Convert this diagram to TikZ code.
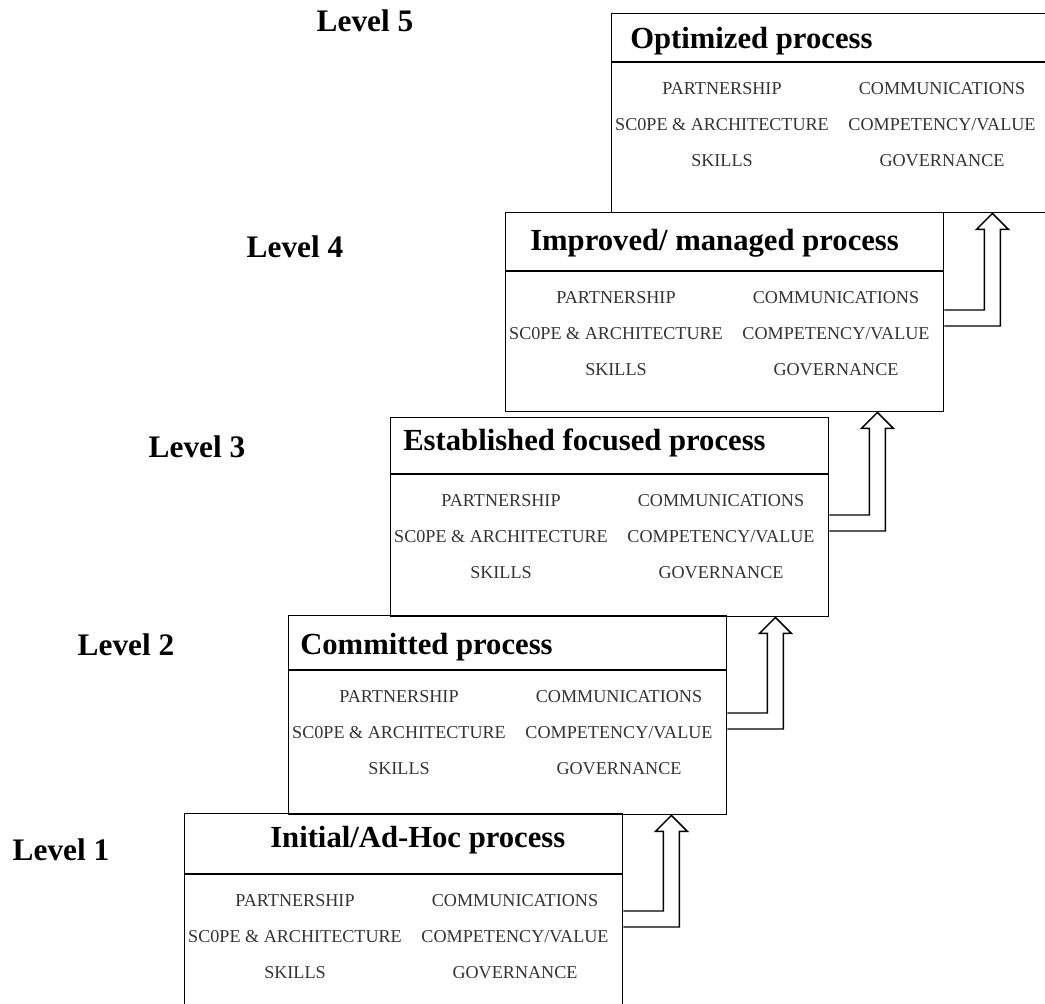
\documentclass[tikz,border=0pt]{standalone}
\usepackage{fontspec}
\setmainfont{Liberation Serif}
\usetikzlibrary{calc}

\begin{document}
\begin{tikzpicture}[
        x=0.75pt, y=-0.75pt,
        stage/.style={draw, line width=1.1pt, anchor=north west, minimum width=328.5pt, minimum height=149.25pt, inner sep=0pt},
        title/.style={anchor=west, inner sep=0pt, font=\fontsize{23}{27}\selectfont\bfseries},
        lvl/.style={inner sep=0pt, font=\fontsize{23.5}{27}\selectfont\bfseries},
        items/.style={align=center, inner sep=0pt, text=black!80, font=\fontsize{13.6}{27}\selectfont},
        titlerule/.style={line width=1.1pt},
        hollow/.style={line width=1.1pt, line join=miter}
    ]

    \useasboundingbox (0,0) rectangle (1045,1003);
    \clip (0,0) rectangle (1045,1003);

    % Stages (box, level, title, rule, two item columns)
    \foreach \n/\bx/\by/\lx/\ly/\ti/\ty/\ru/\ttl in {
        5/611/13/365/21/19/28/49/{Optimized process},
        4/505/212/295/247/25/31/59/{Improved/ managed process},
        3/390/417/197/447/13/26/57/{Established focused process},
        2/288/615/126/645/12/32/55/{Committed process},
        1/184/813/61/850/86/27/61/{Initial/Ad-Hoc process}}{
        \node[stage] (box\n) at (\bx,\by) {};
        \node[lvl] (lvl\n) at (\lx,\ly) {Level \n};
        \node[title] (title\n) at ($(box\n.north west)+(\ti,\ty)$) {\ttl};
        \coordinate (rl\n) at ($(box\n.north west)+(0,\ru)$);
        \draw[titlerule] (rl\n) -- (rl\n -| box\n.east);
        \node[items] (left\n) at ($(box\n.north west)+(111,\ru+63)$) {PARTNERSHIP\\SC0PE \& ARCHITECTURE\\SKILLS};
        \node[items] (right\n) at ($(box\n.north west)+(331,\ru+63)$) {COMMUNICATIONS\\COMPETENCY/VALUE\\GOVERNANCE};
    }

    % Hollow arrows up to the next stage
    \foreach \i/\j in {1/2,2/3,3/4,4/5}{
        \path (box\i.north east) ++(48,0) coordinate (t\i);
        \coordinate (tip\i) at (t\i |- box\j.south);
        \draw[hollow] ($(box\i.north east)+(0,98)$) -| ($(tip\i)+(-8,16)$) -- ++(-8,0) -- (tip\i) -- ++(16,16) -- ++(-8,0) |- ($(box\i.north east)+(0,114)$);
    }

\end{tikzpicture}
\end{document}
